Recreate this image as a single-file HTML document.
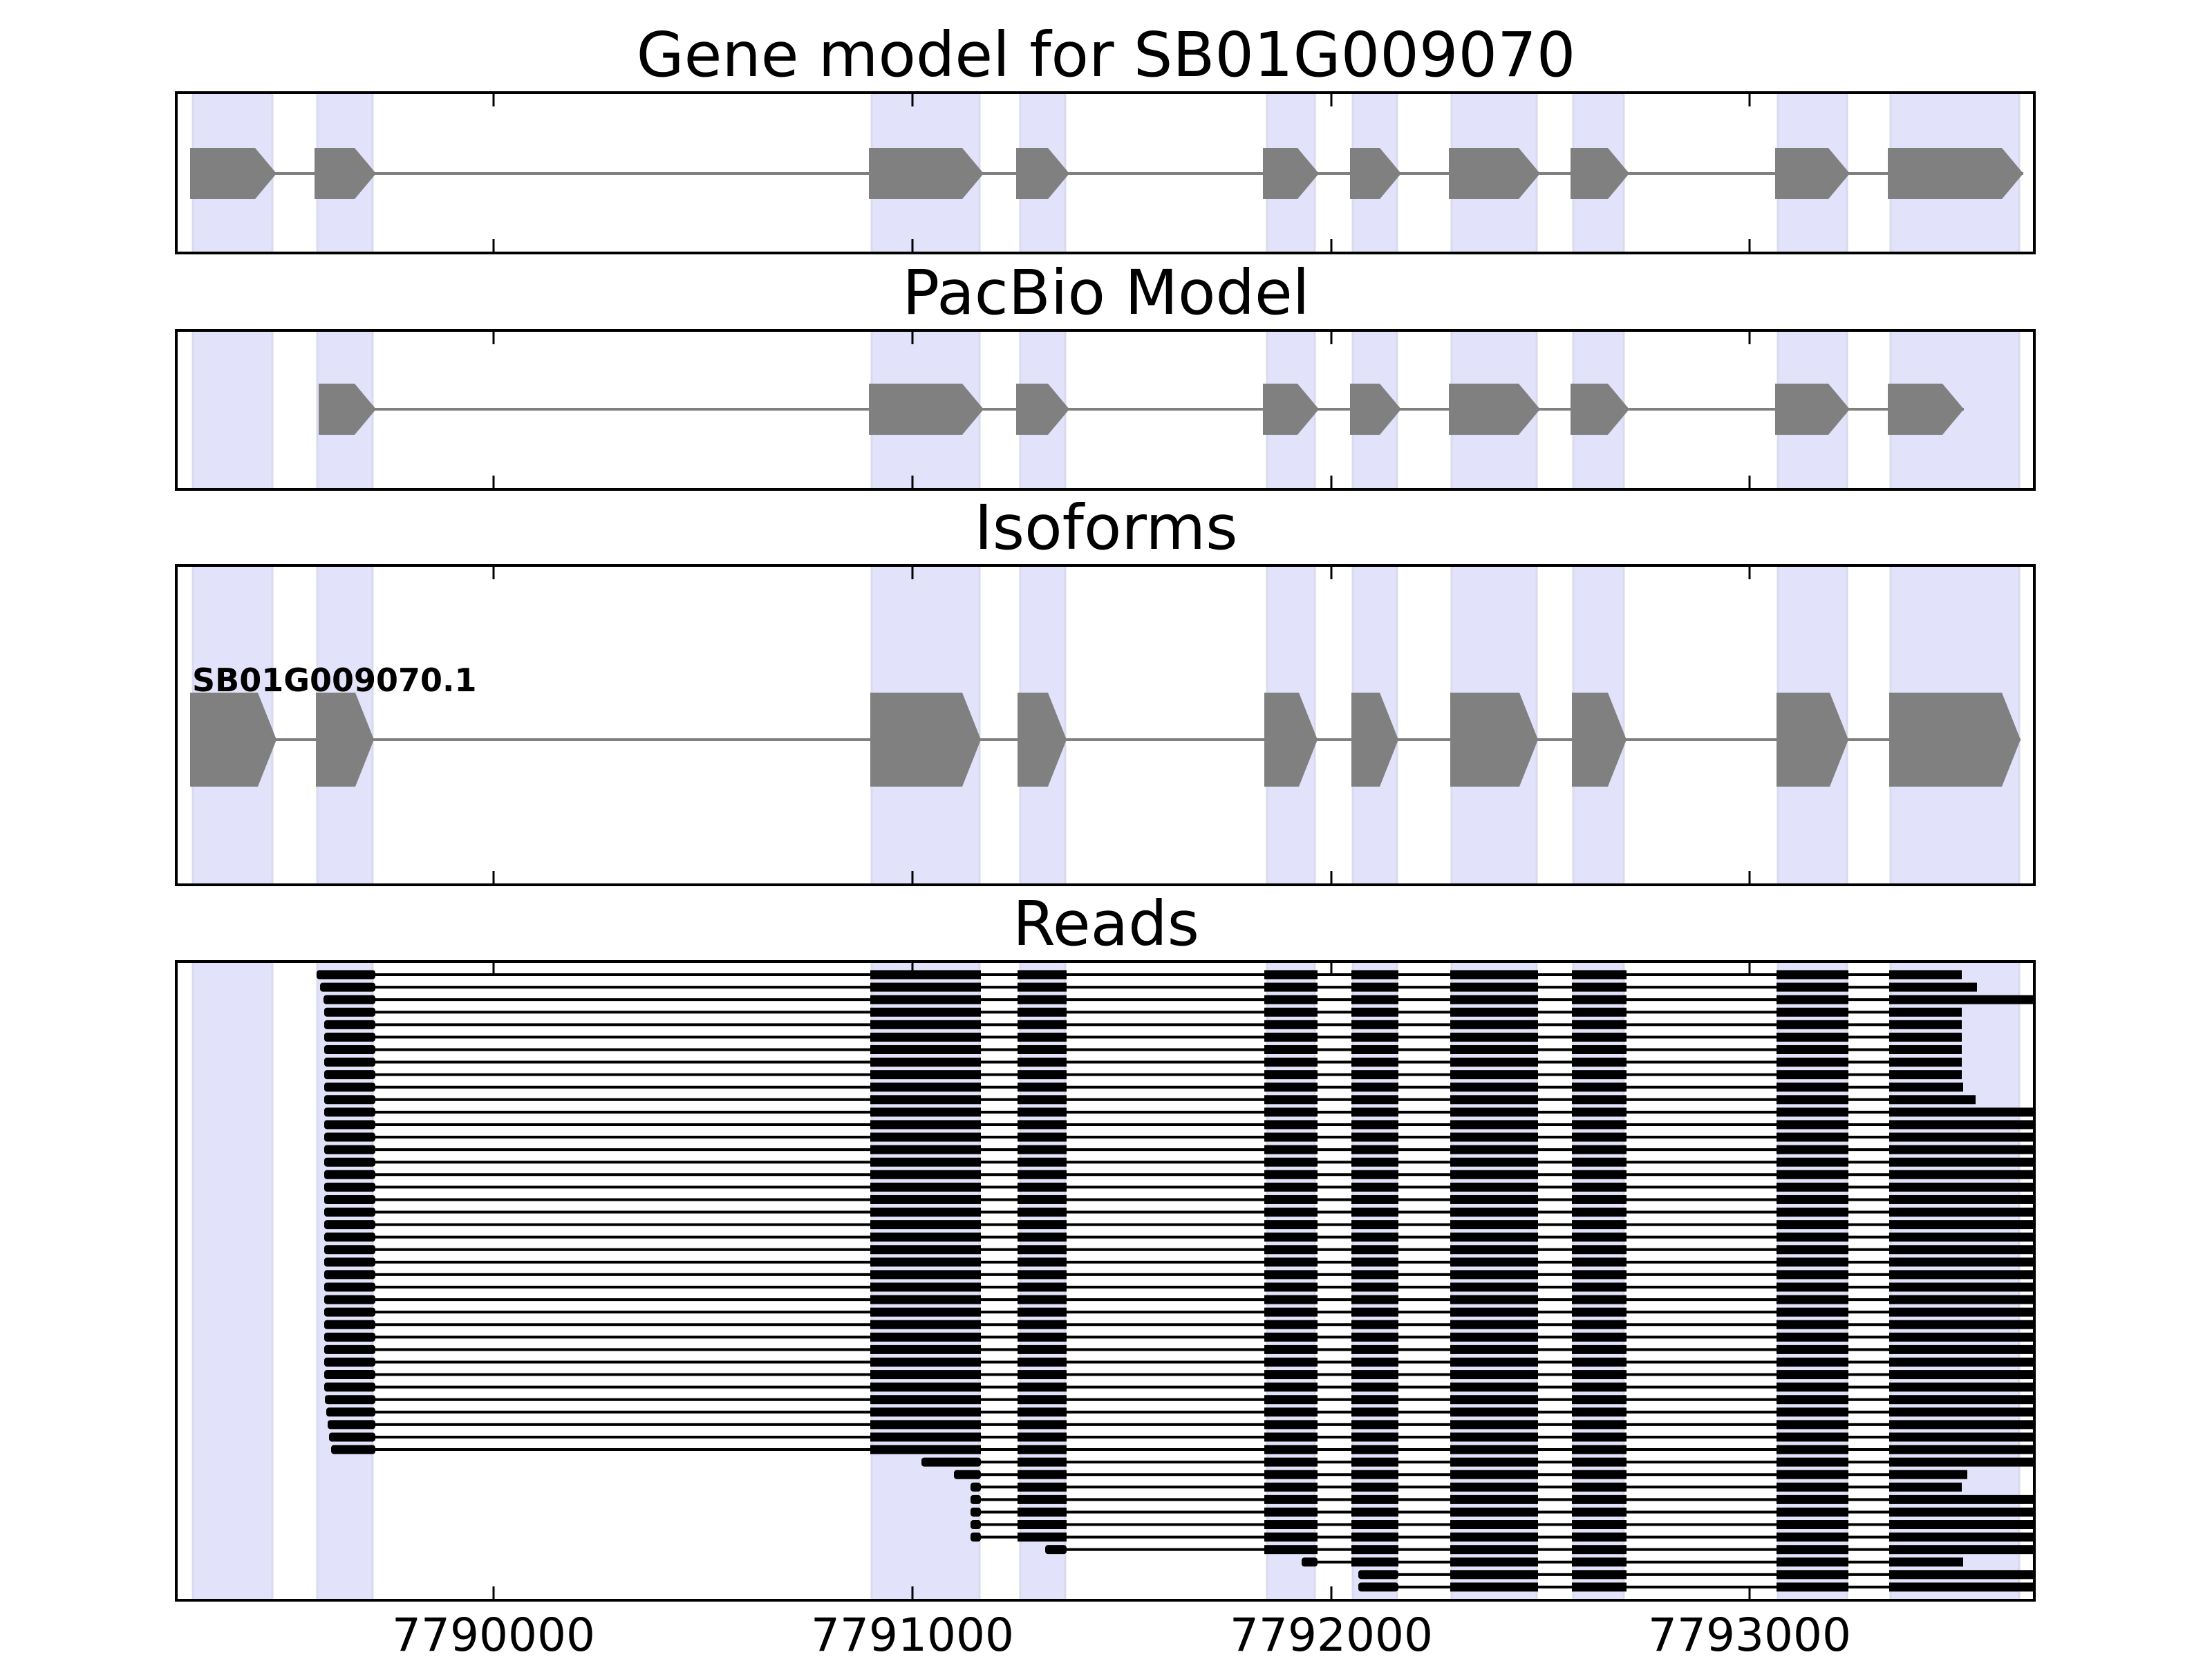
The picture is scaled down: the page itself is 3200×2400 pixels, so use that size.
<!DOCTYPE html>
<html><head><meta charset="utf-8"><style>
html,body{margin:0;padding:0;background:#fff;}
svg{display:block;}
text{font-family:"DejaVu Sans","Liberation Sans",sans-serif;}
</style></head><body>
<svg id="s" width="3200" height="2400" viewBox="0 0 3200 2400" xmlns="http://www.w3.org/2000/svg">
<defs>
<clipPath id="c1"><rect x="255" y="134" width="2688" height="232"/></clipPath>
<clipPath id="c2"><rect x="255" y="478" width="2688" height="230"/></clipPath>
<clipPath id="c3"><rect x="255" y="818" width="2688" height="462"/></clipPath>
<clipPath id="c4"><rect x="255" y="1391" width="2688" height="924"/></clipPath>
</defs>
<g font-size="89" text-anchor="middle" fill="#000">
<text x="1600" y="110">Gene model for SB01G009070</text>
<text x="1600" y="454">PacBio Model</text>
<text x="1600" y="794">Isoforms</text>
<text x="1600" y="1367">Reads</text>
</g>
<g font-size="66" text-anchor="middle" fill="#000">
<text x="714" y="2388">7790000</text>
<text x="1320" y="2388">7791000</text>
<text x="1926" y="2388">7792000</text>
<text x="2531" y="2388">7793000</text>
</g>
<g id="content"></g>
</svg>
<script>
(function(){
var NS="http://www.w3.org/2000/svg";
var root=document.getElementById("content");
function el(tag,attrs,parent){var e=document.createElementNS(NS,tag);for(var k in attrs)e.setAttribute(k,attrs[k]);(parent||root).appendChild(e);return e;}
var panels=[[134,366,"c1"],[478,708,"c2"],[818,1280,"c3"],[1391,2315,"c4"]];
var shades=[[279,394],[459,539],[1261,1417],[1476,1541],[1833,1902],[1957,2021],[2100,2223],[2276,2349],[2572,2672],[2735,2921]];
var groups=[];
panels.forEach(function(p){
  var g=el("g",{"clip-path":"url(#"+p[2]+")"});
  groups.push(g);
  shades.forEach(function(s){
    el("rect",{x:s[0],y:p[0],width:s[1]-s[0],height:p[1]-p[0],fill:"#e2e2fa",stroke:"#dadaee","stroke-width":3},g);
  });
});
function gene(g,ex,yc,h,tip){
  el("line",{x1:ex[0][0],x2:ex[ex.length-1][1],y1:yc,y2:yc,stroke:"#808080","stroke-width":4},g);
  ex.forEach(function(e){
    var a=e[0],b=e[1],t=b-tip;
    el("polygon",{points:a+","+(yc-h/2)+" "+t+","+(yc-h/2)+" "+b+","+yc+" "+t+","+(yc+h/2)+" "+a+","+(yc+h/2),fill:"#808080"},g);
  });
}
var g1=[[275,400],[455,544],[1257,1423],[1470,1547],[1827,1908],[1953,2027],[2096,2228],[2272,2357],[2568,2676],[2731,2927]];
gene(groups[0],g1,251,74,31);
var g2=[[461,544],[1257,1423],[1470,1547],[1827,1908],[1953,2027],[2096,2228],[2272,2357],[2568,2676],[2731,2841]];
gene(groups[1],g2,592,74,31);
var g3=[[275,400],[457,541],[1259,1419],[1472,1543],[1829,1906],[1955,2023],[2098,2225],[2274,2353],[2570,2674],[2733,2923]];
gene(groups[2],g3,1070,136,27);
var t=el("text",{x:278,y:1000,"font-size":46,"font-weight":"bold",fill:"#000"},groups[2]);
t.textContent="SB01G009070.1";
var g4=groups[3];
var mid=[[1259,1419],[1472,1543],[1829,1906],[1955,2023],[2098,2225],[2274,2353],[2570,2674]];
var starts={0:458,1:463,2:468,34:470,35:472,36:474,37:476,38:479};
var ends={0:2838,1:2860,9:2840,10:2858,40:2846,41:2838,47:2840};
for(var i=3;i<=8;i++)ends[i]=2838;
for(var i=0;i<50;i++){
  var yc=1410+i*18.08;
  var end=(ends[i]!==undefined)?ends[i]:2950;
  var ex=[];
  if(i<=38){
    var st=(starts[i]!==undefined)?starts[i]:469;
    ex.push([st,543]);
    mid.forEach(function(m){ex.push(m);});
  } else if(i<=45){
    var st=i==39?1333:(i==40?1380:1404);
    ex.push([st,1419]);
    mid.slice(1).forEach(function(m){ex.push(m);});
  } else if(i==46){
    ex.push([1512,1543]);
    mid.slice(2).forEach(function(m){ex.push(m);});
  } else if(i==47){
    ex.push([1883,1906]);
    mid.slice(3).forEach(function(m){ex.push(m);});
  } else {
    ex.push([1965,2023]);
    mid.slice(4).forEach(function(m){ex.push(m);});
  }
  ex.push([2733,end]);
  el("line",{x1:ex[0][0],x2:end,y1:yc,y2:yc,stroke:"#000","stroke-width":4},g4);
  ex.forEach(function(e){
    el("rect",{x:e[0],y:yc-6.5,width:e[1]-e[0],height:13,fill:"#000",rx:(e===ex[0]?4:0)},g4);
  });
}
var ticks=[714,1320,1926,2531];
panels.forEach(function(p){
  el("rect",{x:255,y:p[0],width:2688,height:p[1]-p[0],fill:"none",stroke:"#000","stroke-width":4});
  ticks.forEach(function(x){
    el("line",{x1:x,x2:x,y1:p[0],y2:p[0]+20,stroke:"#000","stroke-width":3});
    el("line",{x1:x,x2:x,y1:p[1]-20,y2:p[1],stroke:"#000","stroke-width":3});
  });
});
})();
</script>
</body></html>
